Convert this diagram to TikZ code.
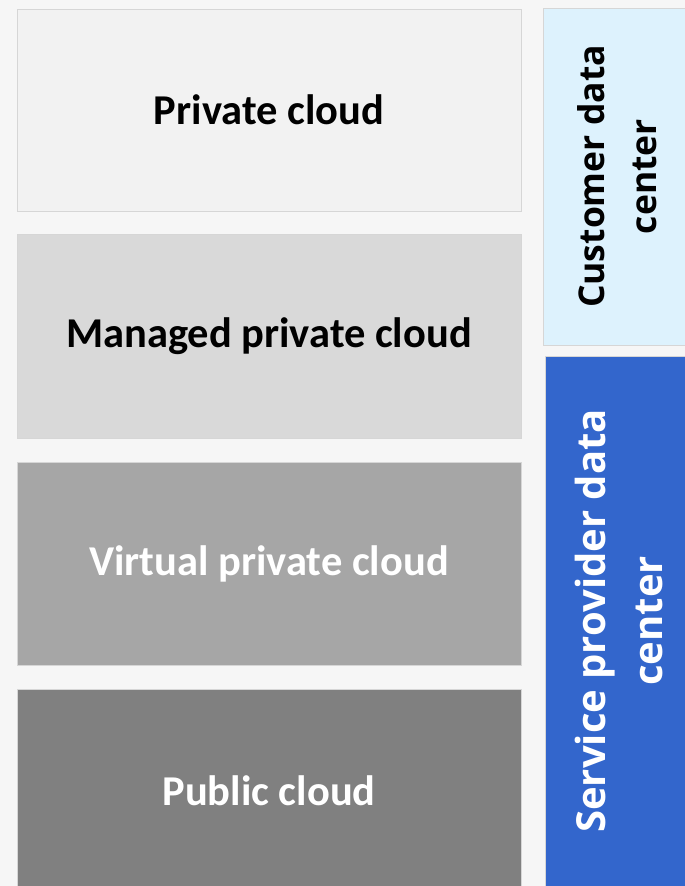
\documentclass[tikz,border=0pt]{standalone}
\usepackage{fontspec}
\setmainfont{Carlito}
\newfontfamily\osans{Open Sans}
\definecolor{bgc}{HTML}{F6F6F6}
\definecolor{bd}{HTML}{D6D6D6}
\definecolor{ca}{HTML}{F2F2F2}
\definecolor{cb}{HTML}{D9D9D9}
\definecolor{cc}{HTML}{A6A6A6}
\definecolor{cd}{HTML}{808080}
\definecolor{lblue}{HTML}{DDF2FD}
\definecolor{dblue}{HTML}{3366CC}
\tikzset{
  cloudbox/.style={draw=bd, line width=1pt, inner sep=0pt, outer sep=0pt,
    minimum width=504pt, font=\fontsize{42.5}{50}\selectfont\bfseries},
  sidebox/.style={draw=bd, line width=1pt, inner sep=0pt, outer sep=0pt, minimum width=148pt},
  sidetext/.style={rotate=90, align=center, inner sep=0pt}
}
\begin{document}
\begin{tikzpicture}[x=1pt,y=-1pt]
\useasboundingbox (0,0) rectangle (685,886);
\clip (0,0) rectangle (685,886);
\fill[bgc] (0,0) rectangle (685,886);
\node[cloudbox, fill=ca, minimum height=202pt, text=black] (pc) at (269,110) {Private cloud};
\node[cloudbox, fill=cb, minimum height=204pt, text=black] (mpc) at (269,336) {Managed private cloud};
\node[cloudbox, fill=cc, minimum height=203pt, text=white] (vpc) at (269,563.5) {Virtual private cloud};
\node[cloudbox, fill=cd, minimum height=204pt, text=white] (pub) at (269,791) {Public cloud};
\node[sidebox, fill=lblue, minimum height=337pt] (cdc) at (617,176.5) {};
\node[sidebox, fill=dblue, minimum height=540pt] (spdc) at (619,626) {};
\node[sidetext, text=black, font=\osans\fontsize{35.5}{52}\selectfont\bfseries] (cdct) at (617.5,176.5) {Customer data\\center};
\node[sidetext, text=white, font=\osans\fontsize{40}{57}\selectfont\bfseries] (spdct) at (619,621) {Service provider data\\center};
\end{tikzpicture}
\end{document}
